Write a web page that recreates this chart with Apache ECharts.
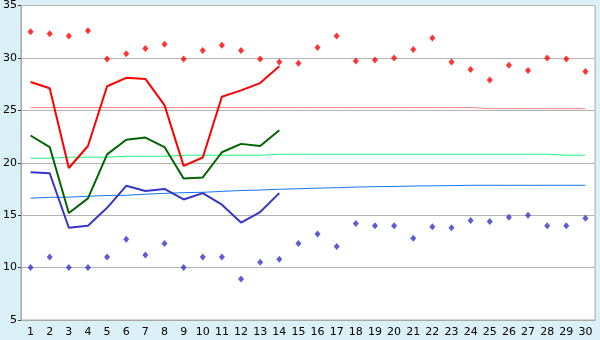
<!DOCTYPE html>
<html><head><meta charset="utf-8">
<script src="https://cdn.jsdelivr.net/npm/echarts@6/dist/echarts.min.js"></script>
<style>html,body{margin:0;padding:0;background:#DAEFF6;}#c{width:600px;height:340px;}</style>
</head><body><div id="c"></div>
<script>
const days = ['1','2','3','4','5','6','7','8','9','10','11','12','13','14','15','16','17','18','19','20','21','22','23','24','25','26','27','28','29','30'];
const recordMax = [32.5,32.3,32.1,32.6,29.9,30.4,30.9,31.3,29.9,30.7,31.2,30.7,29.9,29.6,29.5,31.0,32.1,29.7,29.8,30.0,30.8,31.9,29.6,28.9,27.9,29.3,28.8,30.0,29.9,28.7];
const recordMin = [10.0,11.0,10.0,10.0,11.0,12.7,11.2,12.3,10.0,11.0,11.0,8.9,10.5,10.8,12.3,13.2,12.0,14.2,14.0,14.0,12.8,13.9,13.8,14.5,14.4,14.8,15.0,14.0,14.0,14.7];
const tMax = [27.7,27.1,19.5,21.6,27.3,28.1,28.0,25.5,19.7,20.5,26.3,26.9,27.6,29.2];
const tAvg = [22.6,21.5,15.2,16.6,20.8,22.2,22.4,21.5,18.5,18.6,21.0,21.8,21.6,23.1];
const tMin = [19.1,19.0,13.8,14.0,15.7,17.8,17.3,17.5,16.5,17.1,16.0,14.3,15.3,17.1];
const normMax = [25.26,25.26,25.26,25.26,25.26,25.26,25.26,25.26,25.26,25.26,25.26,25.26,25.26,25.26,25.26,25.26,25.26,25.26,25.26,25.26,25.26,25.26,25.26,25.26,25.16,25.16,25.16,25.16,25.16,25.16];
const normAvg = [20.43,20.43,20.53,20.53,20.53,20.62,20.62,20.62,20.72,20.72,20.72,20.72,20.72,20.81,20.81,20.81,20.81,20.81,20.81,20.81,20.81,20.81,20.81,20.81,20.81,20.81,20.81,20.81,20.72,20.72];
const normMin = [16.62,16.7,16.72,16.8,16.88,16.9,17.0,17.08,17.15,17.18,17.27,17.35,17.4,17.47,17.52,17.58,17.62,17.68,17.72,17.74,17.78,17.8,17.82,17.85,17.85,17.85,17.85,17.85,17.85,17.85];
const yTicks = {min:5,max:35,interval:5};

const font = 'DejaVu Sans';
const chart = echarts.init(document.getElementById('c'));
const lineS = (data,color,w,z)=>({type:'line',data:data,showSymbol:false,symbol:'none',lineStyle:{color:color,width:w},itemStyle:{color:color},z:z,animation:false,connectNulls:false});
chart.setOption({
  backgroundColor:'#DAEFF6',
  animation:false,
  grid:{left:20,right:5,top:5,bottom:20,show:true,backgroundColor:'#FFFFFF',borderColor:'#A8A8A8',borderWidth:1},
  xAxis:{type:'category',data:days,boundaryGap:true,
    axisLine:{lineStyle:{color:'#A8A8A8',width:1}},
    axisTick:{alignWithLabel:true,length:5,lineStyle:{color:'#404040'}},
    axisLabel:{color:'#000',fontFamily:font,fontSize:11,margin:7,interval:0},
    splitLine:{show:false}},
  yAxis:{type:'value',min:yTicks.min,max:yTicks.max,interval:yTicks.interval,
    axisLine:{show:true,lineStyle:{color:'#A8A8A8'}},
    axisTick:{show:true,length:3,lineStyle:{color:'#404040'}},
    axisLabel:{color:'#000',fontFamily:font,fontSize:11,margin:4},
    splitLine:{lineStyle:{color:'#B4B4B4',width:1}}},
  series:[
    lineS(normMax,'#FF8080',1,2),
    lineS(normAvg,'#1EF080',1,2),
    lineS(normMin,'#1478F0',1,2),
    lineS(tMax,'#FF0000',2,3),
    lineS(tAvg,'#006400',2,3),
    lineS(tMin,'#3535C8',2,3),
    {type:'scatter',data:recordMax,symbol:'diamond',symbolSize:[6,7],itemStyle:{color:'#FF0000'},z:4},
    {type:'scatter',data:recordMin,symbol:'diamond',symbolSize:[6,7],itemStyle:{color:'#3333CC'},z:4}
  ]
});
</script></body></html>
